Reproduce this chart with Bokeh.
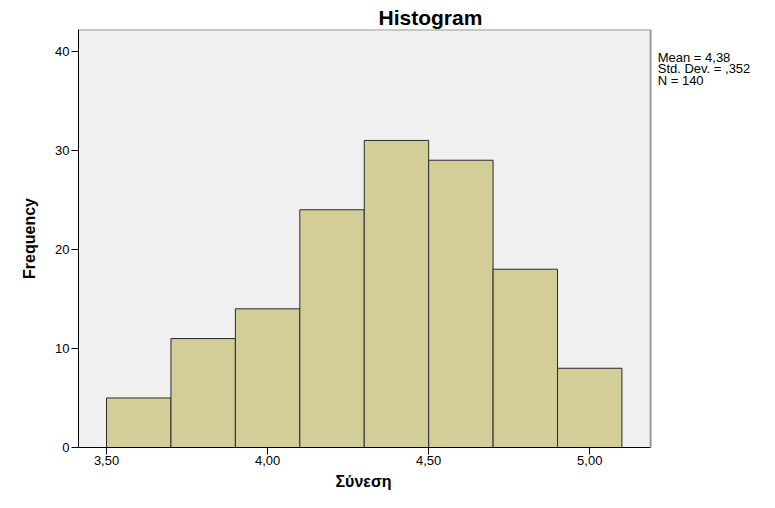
from bokeh.plotting import figure
from bokeh.models import FixedTicker, Label, Range1d, Title
from bokeh.embed import file_html
from bokeh.resources import INLINE

bin_left = [3.5, 3.7, 3.9, 4.1, 4.3, 4.5, 4.7, 4.9]
bin_right = [3.7, 3.9, 4.1, 4.3, 4.5, 4.7, 4.9, 5.1]
counts = [5, 11, 14, 24, 31, 29, 18, 8]
x_ticks = [3.5, 4.0, 4.5, 5.0]
x_tick_labels = ["3,50", "4,00", "4,50", "5,00"]
y_ticks = [0, 10, 20, 30, 40]
stats_lines = ["Mean = 4,38", "Std. Dev. = ,352", "N = 140"]
x_label = "Σύνεση"
y_label = "Frequency"

FONT = "Liberation Sans"
X0, X1 = 3.413, 5.189          # plot area (grey box) extent
XR = 5.527                     # frame extends to the right edge to host the stats text
Y0, Y1 = 0, 42.2

p = figure(width=759, height=492, output_backend="svg", toolbar_location=None,
           x_range=Range1d(X0, XR), y_range=Range1d(Y0, Y1),
           min_border_left=78, min_border_right=0, min_border_top=29, min_border_bottom=10)

p.title.text = "Histogram"
p.title.align = "left"
p.title.offset = 300
p.title.text_font = FONT
p.title.text_font_size = "21px"
p.title.text_font_style = "bold"
p.title.text_color = "#000000"
p.title.standoff = 2

p.background_fill_color = "#ffffff"
p.border_fill_color = "#ffffff"
p.outline_line_color = None
p.xgrid.visible = False
p.ygrid.visible = False

# grey plot area
p.quad(left=[X0], right=[X1], bottom=[Y0], top=[Y1], fill_color="#f0f0f0", line_color=None)
# top / right border (grey)
p.segment(x0=[X0, X1], y0=[Y1, Y0], x1=[X1, X1], y1=[Y1, Y1], line_color="#9a9a9a", line_width=2)

p.quad(left=bin_left, right=bin_right, bottom=0, top=counts,
       fill_color="#d3ce97", line_color="#2b2b2b", line_width=1)

for ax in (p.xaxis[0], p.yaxis[0]):
    ax.axis_line_color = "#000000"
    ax.axis_line_width = 1
    ax.major_tick_line_color = "#000000"
    ax.major_tick_in = 0
    ax.major_tick_out = 7
    ax.minor_tick_line_color = None
    ax.major_label_text_font = FONT
    ax.major_label_text_font_size = "13px"
    ax.major_label_text_color = "#000000"
    ax.axis_label_text_font = FONT
    ax.axis_label_text_font_style = "bold"
    ax.axis_label_text_color = "#000000"

p.xaxis.bounds = (X0, X1)
p.xaxis.ticker = FixedTicker(ticks=x_ticks)
p.xaxis.major_label_overrides = {t: s for t, s in zip(x_ticks, x_tick_labels)}
p.xaxis.major_label_standoff = 1

# x-axis title centred under the grey plot area (not the extended frame)
p.add_layout(Title(text=x_label, align="left", offset=257, text_font=FONT,
                   text_font_size="16px", text_font_style="bold", text_color="#000000",
                   standoff=6), "below")

p.yaxis.ticker = FixedTicker(ticks=y_ticks)
p.yaxis.axis_label = y_label
p.yaxis.axis_label_text_font_size = "16px"
p.yaxis.axis_label_standoff = 14
p.yaxis.major_label_standoff = 2
p.yaxis.major_label_orientation = "horizontal"

# stats text to the right of the grey plot area
for i, line in enumerate(stats_lines):
    p.add_layout(Label(x=5.211, y=39.4 - i * 1.18, x_units="data", y_units="data",
                       text=line, text_font=FONT, text_font_size="13px",
                       text_color="#000000", text_baseline="middle", text_align="left"))

open("out.html", "w").write(file_html(p, INLINE))
